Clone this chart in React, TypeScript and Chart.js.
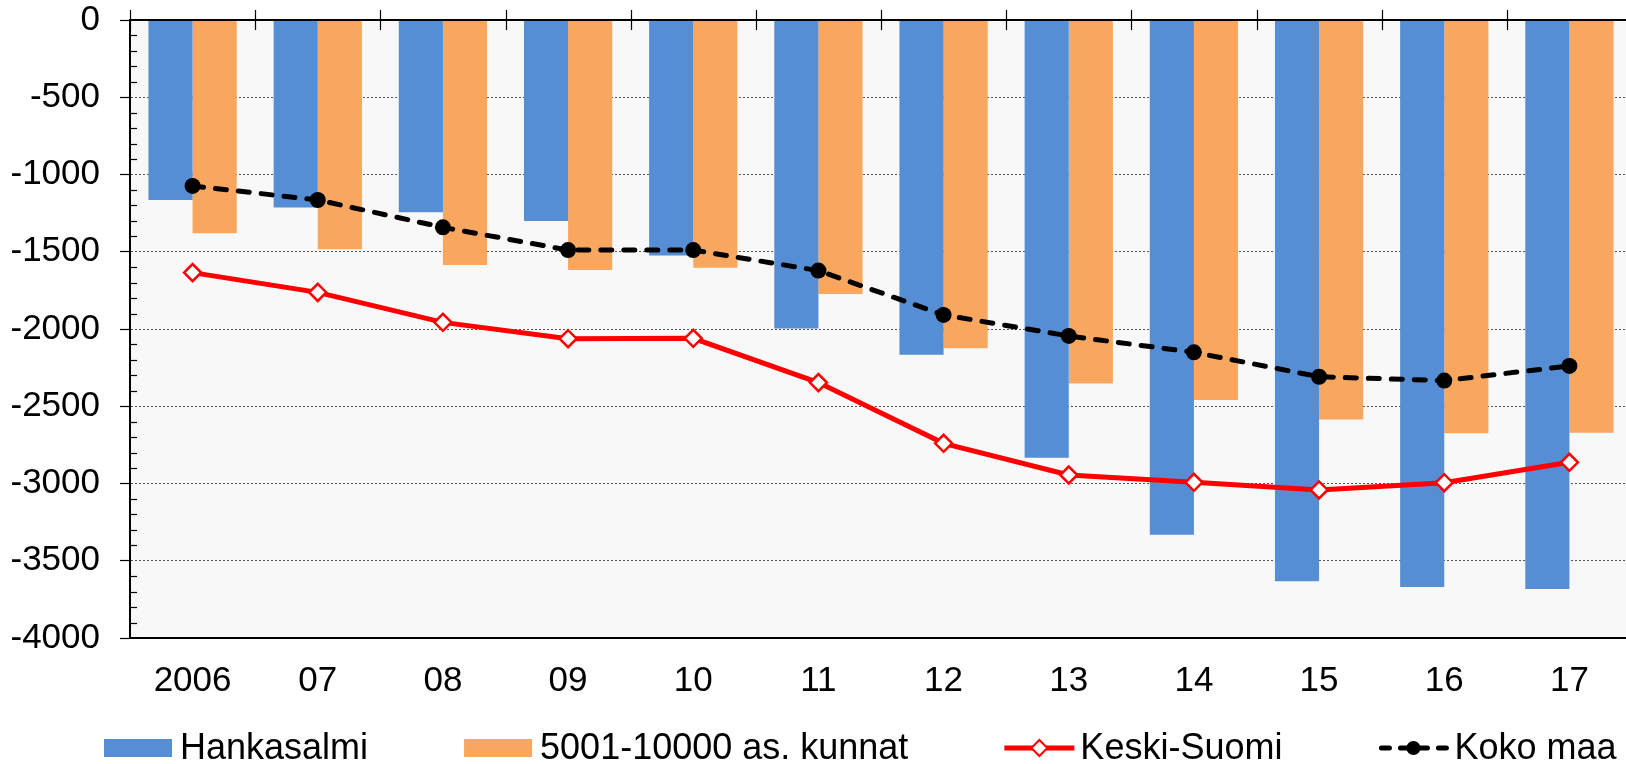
import React, { useEffect, useRef } from 'react';
import { Chart, registerables } from 'chart.js';

Chart.register(...registerables);

const categories = ['2006', '07', '08', '09', '10', '11', '12', '13', '14', '15', '16', '17'];
const hankasalmi = [-1165, -1213, -1245, -1301, -1525, -1996, -2166, -2833, -3331, -3633, -3670, -3683];
const kunnat5001 = [-1381, -1484, -1586, -1618, -1603, -1773, -2125, -2352, -2460, -2585, -2675, -2671];
const keskiSuomi = [-1635, -1763, -1957, -2063, -2060, -2347, -2740, -2945, -2992, -3042, -2995, -2863];
const kokoMaa = [-1074, -1165, -1342, -1489, -1489, -1622, -1909, -2045, -2151, -2309, -2334, -2239];
const yTickValues = [0, -500, -1000, -1500, -2000, -2500, -3000, -3500, -4000];

const FONT = "'Liberation Sans', Arial, sans-serif";
const BLUE = '#558ED5';
const ORANGE = '#F9A65F';
const RED = '#FF0000';

const backgroundPlugin = {
  id: 'plotBg',
  beforeDraw(chart: any) {
    const { ctx, chartArea } = chart;
    ctx.save();
    ctx.fillStyle = '#F8F8F8';
    ctx.fillRect(chartArea.left, chartArea.top, chartArea.right - chartArea.left, chartArea.bottom - chartArea.top);
    ctx.restore();
  },
};

const axisDecorPlugin = {
  id: 'axisDecor',
  afterDatasetsDraw(chart: any) {
    const { ctx, chartArea } = chart;
    const x = chart.scales.x;
    const y = chart.scales.y;
    ctx.save();
    ctx.strokeStyle = '#000';
    ctx.lineWidth = 1.2;
    for (let v = y.min; v <= y.max; v += 100) {
      if (Math.round(v) % 500 === 0) continue;
      const py = Math.round(y.getPixelForValue(v)) + 0.5;
      ctx.beginPath();
      ctx.moveTo(chartArea.left, py);
      ctx.lineTo(chartArea.left + 7, py);
      ctx.stroke();
    }
    const py0 = y.getPixelForValue(0);
    ctx.lineWidth = 2;
    ctx.beginPath();
    ctx.moveTo(chartArea.left, py0);
    ctx.lineTo(chartArea.right, py0);
    ctx.stroke();
    ctx.lineWidth = 1.2;
    const n = categories.length;
    const half = (x.getPixelForValue(1) - x.getPixelForValue(0)) / 2;
    for (let i = 0; i <= n; i++) {
      const px = Math.round(x.getPixelForValue(i) - half) + 0.5;
      ctx.beginPath();
      ctx.moveTo(px, py0 - 10);
      ctx.lineTo(px, py0 + 10);
      ctx.stroke();
    }
    ctx.restore();
  },
};

const legendPlugin = {
  id: 'customLegend',
  afterDraw(chart: any) {
    const ctx = chart.ctx;
    ctx.save();
    ctx.font = `36px ${FONT}`;
    ctx.textBaseline = 'alphabetic';
    let x = 104;
    const yc = 748;
    const base = 759;
    chart.data.datasets.forEach((ds: any) => {
      if (ds.type === 'bar') {
        ctx.fillStyle = ds.backgroundColor;
        ctx.fillRect(x, yc - 9, 68, 18);
      } else if (ds.label === 'Keski-Suomi') {
        ctx.strokeStyle = RED;
        ctx.lineWidth = 5;
        ctx.setLineDash([]);
        ctx.beginPath();
        ctx.moveTo(x, yc);
        ctx.lineTo(x + 70, yc);
        ctx.stroke();
        ctx.lineWidth = 2;
        ctx.fillStyle = '#fff';
        ctx.beginPath();
        ctx.moveTo(x + 35 - 8, yc);
        ctx.lineTo(x + 35, yc - 8);
        ctx.lineTo(x + 35 + 8, yc);
        ctx.lineTo(x + 35, yc + 8);
        ctx.closePath();
        ctx.fill();
        ctx.stroke();
      } else {
        ctx.strokeStyle = '#000';
        ctx.lineWidth = 5;
        ctx.lineCap = 'round';
        ctx.setLineDash([8, 11]);
        ctx.beginPath();
        ctx.moveTo(x + 3, yc);
        ctx.lineTo(x + 68, yc);
        ctx.stroke();
        ctx.setLineDash([]);
        ctx.lineCap = 'butt';
        ctx.fillStyle = '#000';
        ctx.beginPath();
        ctx.arc(x + 35, yc, 7, 0, Math.PI * 2);
        ctx.fill();
      }
      x += 68 + 8;
      ctx.fillStyle = '#000';
      ctx.fillText(ds.label, x, base);
      x += ctx.measureText(ds.label).width + 96;
    });
    ctx.restore();
  },
};

export default function App() {
  const ref = useRef<HTMLCanvasElement>(null);
  useEffect(() => {
    document.body.style.margin = '0';
    document.body.style.overflow = 'hidden';
    const canvas = ref.current!;
    const chart = new Chart(canvas, {
      type: 'bar',
      data: {
        labels: categories,
        datasets: [
          {
            type: 'bar',
            label: 'Hankasalmi',
            data: hankasalmi,
            backgroundColor: BLUE,
            order: 3,
            barPercentage: 1,
            categoryPercentage: 0.705,
          },
          {
            type: 'bar',
            label: '5001-10000 as. kunnat',
            data: kunnat5001,
            backgroundColor: ORANGE,
            order: 3,
            barPercentage: 1,
            categoryPercentage: 0.705,
          },
          {
            type: 'line',
            label: 'Keski-Suomi',
            data: keskiSuomi,
            borderColor: RED,
            borderWidth: 5,
            tension: 0,
            pointStyle: 'rectRot',
            pointRadius: 8.5,
            pointBorderWidth: 2.5,
            pointBackgroundColor: '#FFFFFF',
            pointBorderColor: RED,
            order: 2,
          },
          {
            type: 'line',
            label: 'Koko maa',
            data: kokoMaa,
            borderColor: '#000000',
            borderWidth: 5,
            borderDash: [11, 12],
            borderCapStyle: 'round',
            tension: 0,
            pointStyle: 'circle',
            pointRadius: 8,
            pointBorderWidth: 0,
            pointBackgroundColor: '#000000',
            pointBorderColor: '#000000',
            order: 1,
          },
        ] as any,
      },
      options: {
        responsive: false,
        animation: false,
        devicePixelRatio: 1,
        layout: { padding: { top: 0, right: 0, bottom: 60, left: 0 } },
        plugins: {
          legend: { display: false },
          tooltip: { enabled: false },
        },
        scales: {
          x: {
            type: 'category',
            position: 'bottom',
            offset: true,
            grid: { display: false, drawTicks: false },
            border: { display: true, color: '#000', width: 2 },
            ticks: {
              color: '#000',
              font: { family: FONT, size: 35, lineHeight: 1.2 },
              padding: 22,
              maxRotation: 0,
              autoSkip: false,
            },
            afterFit: (s: any) => {
              s.height = 66;
              s.paddingLeft = 0;
              s.paddingRight = 0;
            },
          },
          y: {
            type: 'linear',
            min: -4000,
            max: 0,
            afterBuildTicks: (s: any) => {
              s.ticks = yTickValues.map((v) => ({ value: v }));
            },
            grid: {
              color: '#555555',
              lineWidth: 1,
              tickLength: 10,
              tickColor: '#000',
              tickWidth: 1.2,
            },
            border: { display: true, color: '#000', width: 2, dash: [2, 2] },
            ticks: {
              color: '#000',
              font: { family: FONT, size: 35, lineHeight: 1 },
              padding: 20,
              callback: (v: any) => String(v),
            },
            afterFit: (s: any) => {
              s.width = 130;
              s.paddingTop = 20;
              s.paddingBottom = 0;
            },
          },
        },
      } as any,
      plugins: [backgroundPlugin, axisDecorPlugin, legendPlugin],
    });
    return () => chart.destroy();
  }, []);
  return (
    <div style={{ width: 1626, height: 764, overflow: 'hidden' }}>
      <canvas ref={ref} width={1643} height={764} style={{ display: 'block' }} />
    </div>
  );
}
